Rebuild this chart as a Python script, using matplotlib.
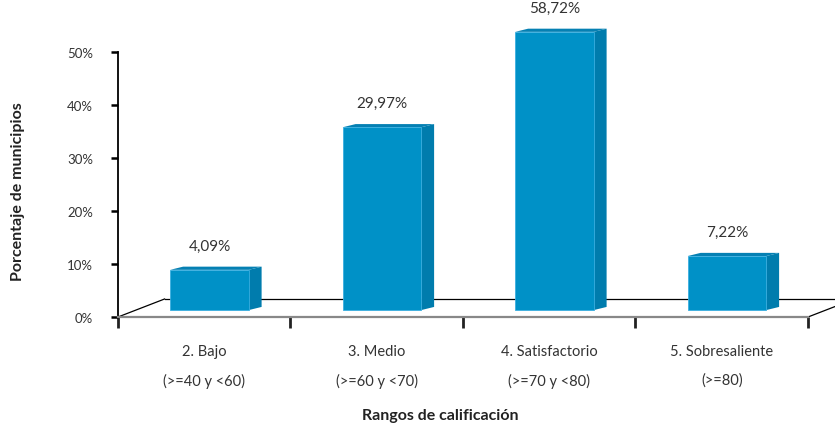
import matplotlib
matplotlib.use("Agg")
import matplotlib.pyplot as plt
from matplotlib.patches import Polygon

# data
categorias = ["2. Bajo", "3. Medio", "4. Satisfactorio", "5. Sobresaliente"]
rangos = ["(>=40 y <60)", "(>=60 y <70)", "(>=70 y <80)", "(>=80)"]
etiquetas = ["4,09%", "29,97%", "58,72%", "7,22%"]
# heights as drawn against the wall axis (the 3D chart does not match its labels)
alturas = [8.9, 35.8, 53.8, 11.5]
yticks = [0, 10, 20, 30, 40, 50]

FRONT = "#0091c7"
SIDE = "#007cad"
TOP = "#0580b3"
TXT = "#333333"
SANS = ["Lato", "DejaVu Sans"]

fig = plt.figure(figsize=(8.35, 4.27), dpi=100)
ax = fig.add_axes([118 / 835, (427 - 318) / 427, (808 - 118) / 835, (318 - 53) / 427])
ax.set_xlim(0, 4)
ax.set_ylim(0, 50)

# 3D offsets in data units
dx, dy = 0.075, 0.6
base = 1.3
w = 0.455
off = 0.53

# floor
fx, fy = 0.27, 3.4
ax.plot([0, fx], [0, fy], color="black", lw=0.9, clip_on=False, zorder=1)
ax.plot([fx, 4 + fx], [fy, fy], color="black", lw=0.9, clip_on=False, zorder=1)
ax.plot([4, 4 + fx], [0, fy], color="black", lw=0.9, clip_on=False, zorder=1)

for i, h in enumerate(alturas):
    x0 = i + off - w / 2
    x1 = x0 + w
    front = Polygon([(x0, base), (x1, base), (x1, h), (x0, h)], closed=True,
                    facecolor=FRONT, edgecolor="#3aaee0", lw=0.6, zorder=3, clip_on=False)
    side = Polygon([(x1, base), (x1 + dx, base + dy), (x1 + dx, h + dy), (x1, h)], closed=True,
                   facecolor=SIDE, edgecolor="none", zorder=3, clip_on=False)
    top = Polygon([(x0, h), (x1, h), (x1 + dx, h + dy), (x0 + dx, h + dy)], closed=True,
                  facecolor=TOP, edgecolor="none", zorder=3, clip_on=False)
    for p in (side, top, front):
        ax.add_patch(p)
    ax.annotate(etiquetas[i], (i + off, h), xytext=(0, 24), textcoords="offset pixels",
                ha="center", va="center", fontsize=11, color=TXT, family=SANS,
                annotation_clip=False)

# axes styling
for s in ("top", "right"):
    ax.spines[s].set_visible(False)
ax.spines["left"].set_color("black")
ax.spines["left"].set_linewidth(1.3)
ax.spines["bottom"].set_color("#888888")
ax.spines["bottom"].set_linewidth(1.6)
ax.spines["left"].set_zorder(0)

ax.set_yticks(yticks)
ax.set_yticklabels([f"{t}%" for t in yticks], fontsize=9.5, color=TXT, family=SANS)
ax.tick_params(axis="y", length=5, width=1.8, color="black", pad=13)
ax.set_xticks([0, 1, 2, 3, 4])
ax.set_xticklabels([])
ax.tick_params(axis="x", length=8, width=2, color="#222222", direction="out")

for i in range(4):
    ax.annotate(categorias[i], (i + 0.5, 0), xycoords="data", xytext=(0, -34),
                textcoords="offset pixels", ha="center", va="center", fontsize=10.5,
                color=TXT, family=SANS, annotation_clip=False)
    ax.annotate(rangos[i], (i + 0.5, 0), xycoords="data", xytext=(0, -63),
                textcoords="offset pixels", ha="center", va="center", fontsize=10.5,
                color=TXT, family=SANS, annotation_clip=False)

fig.text(18 / 835, 1 - 192 / 427, "Porcentaje de municipios", rotation=90, ha="center",
         va="center", fontsize=11.5, fontweight="bold", color="#222222", family=SANS)
fig.text(440 / 835, 1 - 416 / 427, "Rangos de calificación", ha="center", va="center",
         fontsize=11.5, fontweight="bold", color="#222222", family=SANS)

fig.savefig("out.png", dpi=100)
